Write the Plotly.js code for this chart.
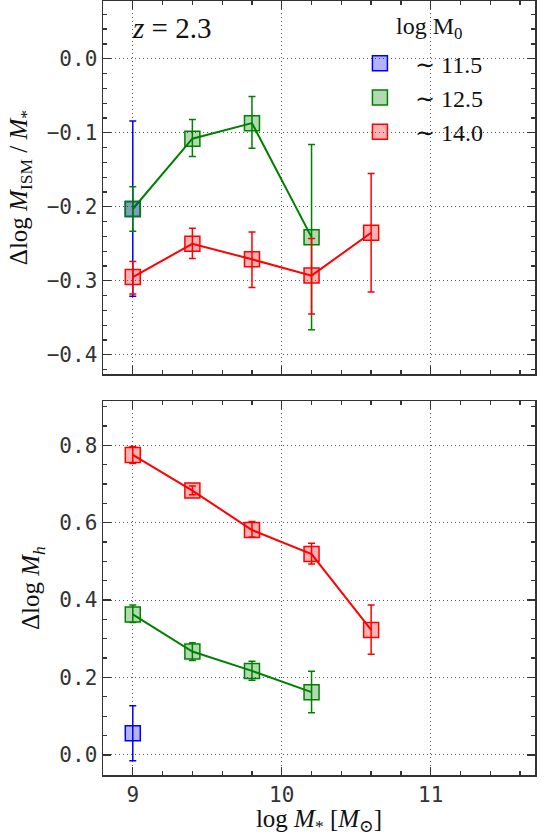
<!DOCTYPE html>
<html>
<head>
<meta charset="utf-8">
<script src="https://cdn.plot.ly/plotly-3.0.1.min.js"></script>
<style>html,body{margin:0;padding:0;background:#fff;}#plot{width:546px;height:836px;}</style>
</head>
<body>
<div id="plot"></div>
<script>
// ---- data ----
const groupNames = ["∼ 11.5", "∼ 12.5", "∼ 14.0"];
const groupColors = ["#0000ff", "#008000", "#ff0000"];
const groupFills = ["rgba(0,0,255,0.3)", "rgba(0,128,0,0.3)", "rgba(255,0,0,0.3)"];
const legendTitle = "log M<sub>0</sub>";
const panelLabel = "<i>z</i> = 2.3";

// top panel: Delta log M_ISM / M_*
const ismBlueX = [9];
const ismBlueY = [-0.203];
const ismBluePlus = [0.119];
const ismBlueMinus = [0.118];

const ismGreenX = [9, 9.4, 9.8, 10.2];
const ismGreenY = [-0.203, -0.108, -0.087, -0.241];
const ismGreenPlus = [0.030, 0.026, 0.036, 0.125];
const ismGreenMinus = [0.030, 0.024, 0.034, 0.125];

const ismRedX = [9, 9.4, 9.8, 10.2, 10.6];
const ismRedY = [-0.295, -0.250, -0.271, -0.293, -0.235];
const ismRedPlus = [0.021, 0.021, 0.037, 0.050, 0.080];
const ismRedMinus = [0.023, 0.020, 0.038, 0.052, 0.080];

// bottom panel: Delta log M_h
const mhBlueX = [9];
const mhBlueY = [0.056];
const mhBluePlus = [0.071];
const mhBlueMinus = [0.071];

const mhGreenX = [9, 9.4, 9.8, 10.2];
const mhGreenY = [0.363, 0.267, 0.217, 0.162];
const mhGreenPlus = [0.024, 0.023, 0.025, 0.054];
const mhGreenMinus = [0.021, 0.023, 0.024, 0.053];

const mhRedX = [9, 9.4, 9.8, 10.2, 10.6];
const mhRedY = [0.775, 0.683, 0.581, 0.519, 0.323];
const mhRedPlus = [0.022, 0.012, 0.022, 0.028, 0.064];
const mhRedMinus = [0.022, 0.011, 0.018, 0.026, 0.063];

const xTickVals = [9, 10, 11];
const xTickText = ["9", "10", "11"];
const ismTickVals = [0.0, -0.1, -0.2, -0.3, -0.4];
const ismTickText = ["0.0", "−0.1", "−0.2", "−0.3", "−0.4"];
const mhTickVals = [0.0, 0.2, 0.4, 0.6, 0.8];
const mhTickText = ["0.0", "0.2", "0.4", "0.6", "0.8"];

// ---- traces ----
function lineTrace(x, y, i, xa, ya) {
  return {x: x, y: y, xaxis: xa, yaxis: ya, type: "scatter", mode: "lines",
    line: {color: groupColors[i], width: 2}, showlegend: false, hoverinfo: "skip"};
}
function markTrace(x, y, plus, minus, i, xa, ya, legend) {
  return {x: x, y: y, xaxis: xa, yaxis: ya, type: "scatter", mode: "markers",
    name: groupNames[i], legendgroup: "g" + i, showlegend: legend,
    marker: {symbol: "square", size: 15, color: groupFills[i], line: {color: groupColors[i], width: 1.5}},
    error_y: {type: "data", symmetric: false, array: plus, arrayminus: minus,
      color: groupColors[i], thickness: 1.5, width: 3.5}};
}

const traces = [
  lineTrace(ismGreenX, ismGreenY, 1, "x2", "y2"),
  lineTrace(ismRedX, ismRedY, 2, "x2", "y2"),
  markTrace(ismBlueX, ismBlueY, ismBluePlus, ismBlueMinus, 0, "x2", "y2", true),
  markTrace(ismGreenX, ismGreenY, ismGreenPlus, ismGreenMinus, 1, "x2", "y2", true),
  markTrace(ismRedX, ismRedY, ismRedPlus, ismRedMinus, 2, "x2", "y2", true),
  lineTrace(mhGreenX, mhGreenY, 1, "x", "y"),
  lineTrace(mhRedX, mhRedY, 2, "x", "y"),
  markTrace(mhBlueX, mhBlueY, mhBluePlus, mhBlueMinus, 0, "x", "y", false),
  markTrace(mhGreenX, mhGreenY, mhGreenPlus, mhGreenMinus, 1, "x", "y", false),
  markTrace(mhRedX, mhRedY, mhRedPlus, mhRedMinus, 2, "x", "y", false)
];

const tickFont = {family: "DejaVu Sans Mono", size: 21, color: "#333"};
const serif = "Liberation Serif, DejaVu Serif, serif";
const titleFont = {family: serif, size: 25, color: "#111"};
const axisCommon = {
  showline: true, linecolor: "#333", linewidth: 1.5, mirror: "ticks",
  ticks: "inside", ticklen: 8, tickwidth: 1.3, tickcolor: "#333",
  showgrid: true, gridcolor: "#555", gridwidth: 1, griddash: "1px,3px",
  zeroline: false, tickfont: tickFont
};

const layout = {
  width: 546, height: 836,
  margin: {l: 103, r: 11, t: 1, b: 61},
  paper_bgcolor: "#fff", plot_bgcolor: "#fff",
  showlegend: true,
  legend: {x: 0.56, y: 0.948, xanchor: "left", yanchor: "top", bgcolor: "rgba(0,0,0,0)",
    font: {family: serif, size: 24, color: "#111"},
    itemwidth: 60, tracegroupgap: 0},
  xaxis: Object.assign({}, axisCommon, {anchor: "y", range: [8.8, 11.7], tickvals: xTickVals,
    ticktext: xTickText,
    minor: {dtick: 0.2, tick0: 9, ticklen: 4, ticks: "inside", tickcolor: "#333", showgrid: false},
    title: {text: "log <i>M</i><sub>*</sub> [<i>M</i><sub>⊙</sub>]", font: titleFont, standoff: 0}}),
  yaxis: Object.assign({}, axisCommon, {anchor: "x", domain: [0, 0.483], range: [-0.052, 0.914],
    tickvals: mhTickVals, ticktext: mhTickText,
    minor: {dtick: 0.05, tick0: 0, ticklen: 4, ticks: "inside", tickcolor: "#333", showgrid: false},
    title: {text: "Δlog <i>M</i><sub><i>h</i></sub>", font: titleFont, standoff: 12}}),
  xaxis2: Object.assign({}, axisCommon, {anchor: "y2", range: [8.8, 11.7], tickvals: xTickVals,
    showticklabels: false,
    minor: {dtick: 0.2, tick0: 9, ticklen: 4, ticks: "inside", tickcolor: "#333", showgrid: false}}),
  yaxis2: Object.assign({}, axisCommon, {anchor: "x2", domain: [0.518, 1], range: [-0.426, 0.078],
    tickvals: ismTickVals, ticktext: ismTickText,
    minor: {dtick: 0.02, tick0: 0, ticklen: 4, ticks: "inside", tickcolor: "#333", showgrid: false},
    title: {text: "Δlog <i>M</i><sub>ISM</sub> / <i>M</i><sub>*</sub>", font: titleFont, standoff: 12}}),
  annotations: [
    {xref: "x2", yref: "paper", x: 9.26, y: 0.965, xanchor: "center", yanchor: "middle",
     text: panelLabel, showarrow: false, font: {family: serif, size: 29, color: "#111"}},
    {xref: "x2", yref: "paper", x: 10.05, y: 0.965, xanchor: "center", yanchor: "middle",
     text: legendTitle, showarrow: false, font: {family: serif, size: 24, color: "#111"}}
  ]
};
layout.annotations[1].x = 10.99;

Plotly.newPlot("plot", traces, layout, {staticPlot: true, displayModeBar: false});
</script>
</body>
</html>
